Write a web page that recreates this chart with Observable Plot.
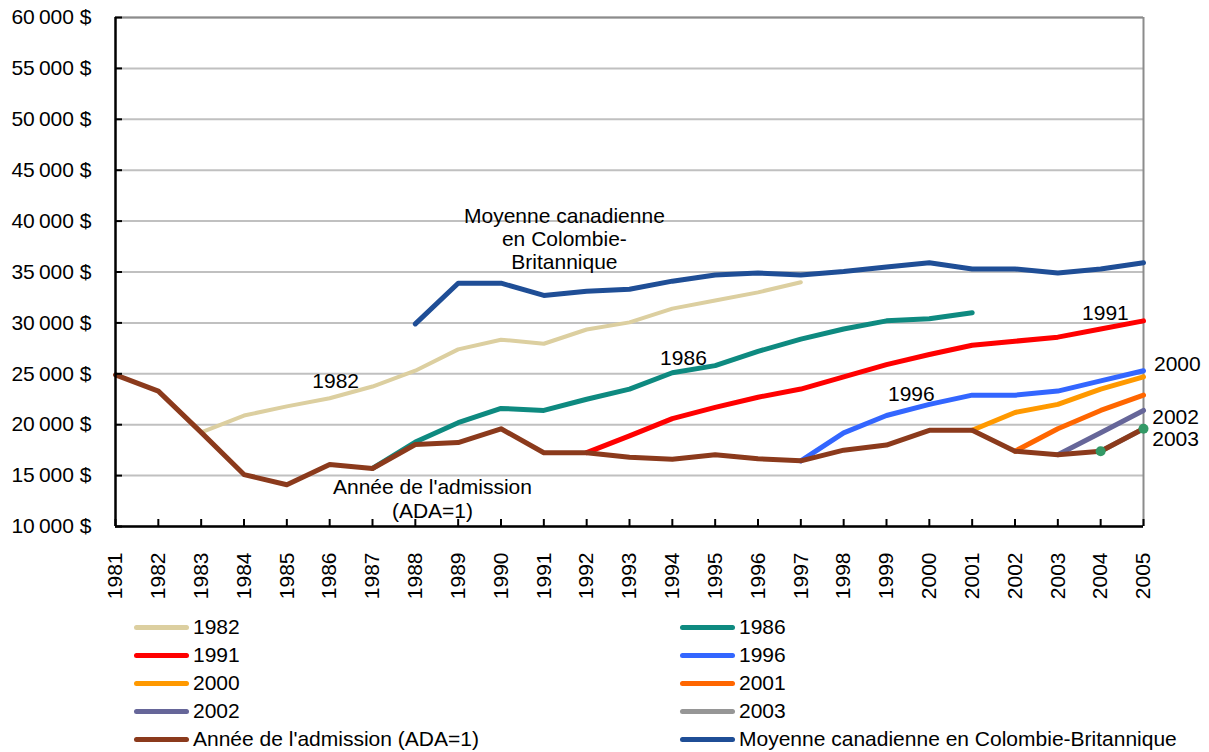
<!DOCTYPE html>
<html>
<head>
<meta charset="utf-8">
<script src="https://cdn.jsdelivr.net/npm/d3@7"></script>
<script src="https://cdn.jsdelivr.net/npm/@observablehq/plot@0.6"></script>
<style>
  html, body { margin: 0; padding: 0; background: #fff; }
  body { width: 1209px; height: 752px; position: relative; overflow: hidden; font-family: "Liberation Sans", Arial, sans-serif; }
  #chart { position: absolute; left: 0; top: 0; }
  .leg { position: absolute; height: 24px; display: flex; align-items: center; font-size: 21px; color: #000; white-space: nowrap; }
  .sw { width: 55px; height: 5px; border-radius: 3px; margin-right: 4px; }
</style>
</head>
<body>
<div id="chart"></div>
<div id="legend"></div>
<script>
// ---- data ----
const years = [1981,1982,1983,1984,1985,1986,1987,1988,1989,1990,1991,1992,1993,1994,1995,1996,1997,1998,1999,2000,2001,2002,2003,2004,2005];
const yTicks = [10000,15000,20000,25000,30000,35000,40000,45000,50000,55000,60000];

// Année de l'admission (ADA=1), 1981-2005
const ada = [24900,23300,19250,15100,14100,16100,15700,18050,18250,19600,17250,17250,16800,16600,17050,16650,16450,17500,18000,19450,19450,17400,17050,17400,19600];
// cohorts (first year = start year)
const s1982 = [19250,20900,21800,22600,23750,25300,27400,28350,27950,29350,30050,31400,32200,33000,34000]; // 1983-1997
const s1986 = [15700,18300,20200,21600,21400,22500,23500,25100,25800,27200,28400,29400,30200,30400,31000]; // 1987-2001
const s1991 = [17250,18900,20600,21700,22700,23500,24700,25900,26900,27800,28200,28600,29400,30200]; // 1992-2005
const s1996 = [16450,19200,20900,22000,22900,22900,23300,24300,25300]; // 1997-2005
const s2000 = [19450,21200,22000,23500,24700]; // 2001-2005
const s2001 = [17400,19600,21400,22900]; // 2002-2005
const s2002 = [17050,19200,21400]; // 2003-2005
const s2003 = [17400,19600]; // 2004-2005
// Moyenne canadienne en Colombie-Britannique, 1988-2005
const moyenne = [29900,33900,33900,32700,33100,33300,34100,34700,34900,34700,35050,35500,35900,35300,35300,34900,35300,35900];

const seriesNames = ["1982","1986","1991","1996","2000","2001","2002","2003","Année de l'admission (ADA=1)","Moyenne canadienne en Colombie-Britannique"];
const seriesStart = [1983,1987,1992,1997,2001,2002,2003,2004,1981,1988];
const seriesValues = [s1982,s1986,s1991,s1996,s2000,s2001,s2002,s2003,ada,moyenne];
const seriesColors = ["#dccfa0","#0e8a80","#ff0000","#3366ff","#ff9900","#ff6600","#666699","#969696","#8b3a1c","#1f4e96"];
const seriesWidths = [4,5,5,5,5,5,5,5,5,5];

// annotation labels (text, x in years, y in $)
const labelTexts = ["Moyenne canadienne\nen Colombie-\nBritannique","1982","1986","1991","1996","2000","2002","2003","Année de l'admission\n(ADA=1)"];
const labelX = [1991.48,1986.14,1994.26,2004.11,1999.58,2005.79,2005.75,2005.75,1988.40];
const labelY = [38290,24340,26600,31020,23060,26010,20800,18640,12750];

// ---- build tables ----
const rows = [];
seriesNames.forEach((name, si) => {
  const i0 = years.indexOf(seriesStart[si]);
  seriesValues[si].forEach((v, k) => rows.push({series: name, year: years[i0 + k], value: v}));
});
const labels = labelTexts.map((t, i) => ({text: t, x: labelX[i], y: labelY[i]}));
const fmtMoney = d => d3.format(",")(d).replace(/,/g, "\u202f") + " $";

const lineMarks = seriesNames.map((name, si) =>
  Plot.line(rows.filter(r => r.series === name), {
    x: "year", y: "value",
    stroke: seriesColors[si], strokeWidth: seriesWidths[si],
    strokeLinejoin: "round", strokeLinecap: "round"
  })
);

const chart = Plot.plot({
  width: 1209,
  height: 610,
  marginLeft: 115,
  marginRight: 66,
  marginTop: 17,
  marginBottom: 84,
  style: {fontFamily: "'Liberation Sans', Arial, sans-serif", fontSize: "21px", color: "#000", background: "#fff"},
  x: {domain: [1981, 2005], label: null},
  y: {domain: [10000, 60000], label: null},
  marks: [
    Plot.gridY(yTicks, {stroke: "#c0c0c0", strokeOpacity: 1, strokeWidth: 2}),
    Plot.ruleY([60000], {stroke: "#8c8c8c", strokeWidth: 2}),
    Plot.ruleX([2005], {stroke: "#8c8c8c", strokeWidth: 2}),
    ...lineMarks,
    Plot.dot(rows.filter(r => r.series === "2003"), {x: "year", y: "value", r: 5, fill: "#339966", stroke: "none"}),
    Plot.ruleY([10000], {stroke: "#000", strokeWidth: 2.5}),
    Plot.ruleX([1981], {stroke: "#000", strokeWidth: 2.5}),
    // inward ticks
    Plot.axisY(yTicks, {anchor: "left", tickSize: 7, dx: 7, strokeWidth: 2, tickFormat: () => "", label: null}),
    Plot.axisY(yTicks, {anchor: "left", tickSize: 0, tickPadding: 24, tickFormat: fmtMoney, label: null}),
    Plot.axisX(years, {anchor: "bottom", tickSize: 7, dy: -7, strokeWidth: 2, tickFormat: () => "", label: null}),
    Plot.axisX(years, {anchor: "bottom", tickSize: 0, tickPadding: 26, tickRotate: -90, tickFormat: d => String(d), label: null}),
    Plot.text(labels, {x: "x", y: "y", text: "text", lineAnchor: "middle", lineHeight: 1.11, fill: "#000", fontSize: 21})
  ]
});
document.getElementById("chart").appendChild(chart);

// ---- legend (HTML, below the SVG) ----
const legend = document.getElementById("legend");
const legRowsY = [626, 654, 682, 710, 738];
const legColX = [134, 680];
seriesNames.forEach((name, i) => {
  const row = Math.floor(i / 2), col = i % 2;
  const d = document.createElement("div");
  d.className = "leg";
  d.style.left = legColX[col] + "px";
  d.style.top = (legRowsY[row] - 11) + "px";
  const sw = document.createElement("div");
  sw.className = "sw";
  sw.style.background = seriesColors[i];
  const t = document.createElement("span");
  t.textContent = name;
  d.appendChild(sw);
  d.appendChild(t);
  legend.appendChild(d);
});
</script>
</body>
</html>
